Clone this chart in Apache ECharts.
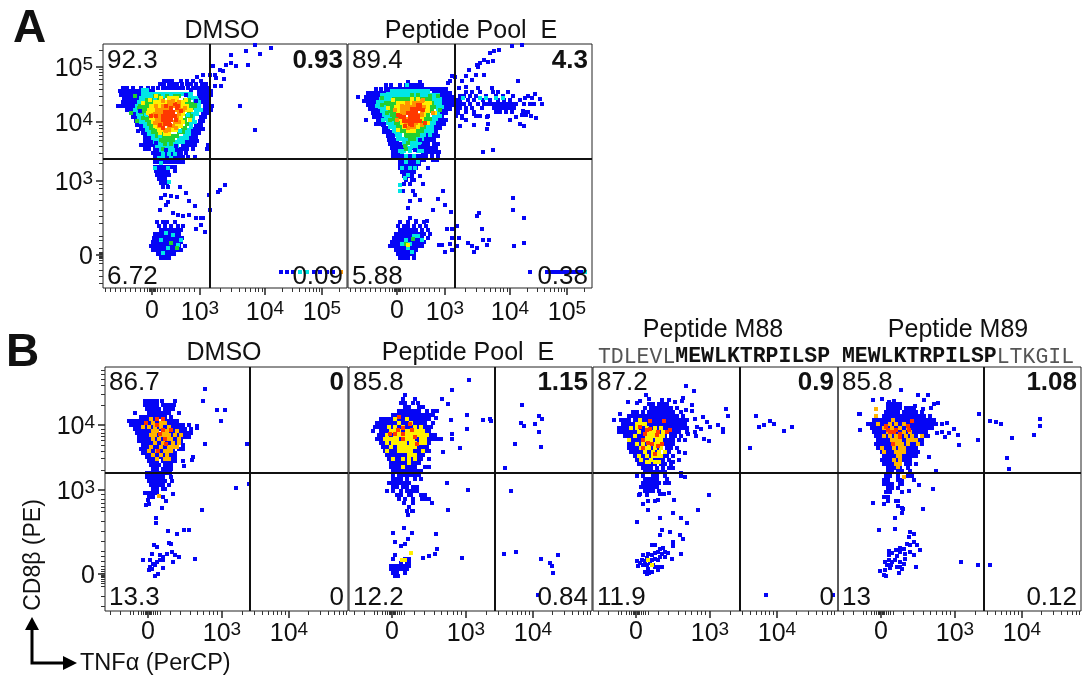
<!DOCTYPE html>
<html><head><meta charset="utf-8">
<style>html,body{margin:0;padding:0;background:#fff}#c{width:1082px;height:678px}</style>
<script src="https://cdn.jsdelivr.net/npm/echarts@6/dist/echarts.min.js"></script>
</head><body><div id="c"></div>
<script>
// Event values are biexponential channel positions. Rows are [channel y, channel x, channel x, ...]; loose events are [x, y].
const a1Blue=[[207,61,65,69,78,84,90,98],[204,57,61,66,70,74,79,84,88,93,99,103],[200,20,24,30,38,45,50,55,60,64,68,72,76,80,85,90,94,98,102,106],[197,17,21,25,29,33,37,41,46,50,96,100,104,108],[193,18,22,26,30,34,38,42,96,100,104,108],[189,21,25,29,33,37,97,101,105],[186,20,24,28,32,36,99,103,106],[182,15,19,23,27,31,102,106,109],[178,24,28,32,100,104,108],[175,28,32,100,104],[171,30,34,98,102],[167,33,37,97,100],[163,34,38,94,98],[159,38,42,92,96,100],[155,40,44,88,92,96],[151,42,46,85,89,93],[147,42,46,50,82,86,90,94],[143,38,42,46,50,80,84,88,92,105],[139,42,46,52,56,72,76,80,84,90,104],[135,50,54,58,62,66,70,74,78,83],[131,52,56,60,64,68,72,76,80,85,92],[126,52,56,60,64,68,72,76,80],[121,52,56,60,64,68,72],[117,53,57,61,65,72],[113,54,58,62,66],[109,56,60,62],[105,58,62,64],[101,60,65]];
const a1BlueLoose=[[77,101],[62,93],[58,90],[68,92],[74,91],[83,95],[65,86],[63,83],[86,87],[92,82],[57,78],[70,75],[75,73],[80,72],[86,73],[93,70],[98,70],[100,70],[93,59],[98,63],[102,56],[107,78],[106,93],[115,96],[117,98],[122,103],[137,182],[152,158],[110,222],[117,218],[128,233],[128,225],[123,223],[133,222],[143,237],[145,223],[152,243],[157,234],[168,240],[120,217],[121,209],[113,210],[112,213],[107,213],[100,213],[94,211],[118,202],[112,202],[178,16],[184,16],[190,16],[211,16],[217,16],[224,16],[230,16]];
const a1BlueLow=[[66,54,60,64,72],[62,56,62,68,75,80],[58,58,62,66,70,74,78],[54,52,56,60,64,68,72,76],[50,51,55,59,63,67,71,75,79],[46,50,54,58,62,66,70,74,78],[42,48,52,56,60,64,68,72,76,82],[38,50,54,58,62,66,70,74,78],[34,55,59,63,67,71],[30,58,62,66]];
const a1Cyan=[[198,40,44],[194,40,44,48,52,56,60,64,68,72,76,80,84,88],[190,38,42,46,50,54,60,86,90,94],[186,36,40,92,96],[182,34,38,96],[178,32,36,94,98],[174,35,39,90,94],[170,36,40,90],[166,38,42,88,92],[162,42,46,88],[158,44,48,84,88],[154,46,50,82,86],[150,50,54,58,76,80,84],[146,52,56,60,64,68,72,76,80],[142,54,58,62,66,70,74],[138,58,62,66,70],[134,60,66,72],[130,56,60,68],[125,58],[120,52,65],[106,66],[53,70],[48,58,78],[55,63],[43,75],[40,65],[35,60],[16,197,204]];
const a1Green=[[192,52,56,64,72,76],[188,44,48,56,60,82,86],[184,40,44,48,84,88,92],[180,36,40,44,88,92],[176,38,42,46,86],[172,42,46,84,88],[168,44,48,82],[164,46,50,84],[160,48,52,80],[156,50,54,58,76,80],[152,54,58,62,66,70,74],[148,58,62,66,70],[144,62,68],[139,60],[45,68],[40,74]];
const a1Yellow=[[190,58,66,70,74],[186,52,56,60,64,72,78,80],[182,48,52,56,80,84],[178,46,50,84],[174,46,50,80],[170,48,52,78],[166,50,78,80],[162,52,74,78],[158,54,58,70,74],[154,62,66]];
const a1Orange=[[186,66,70,76],[182,60,64,68,72,76],[178,54,58,62,66,74,78,80],[174,52,56,60,76],[170,54,58,74],[166,54,58,72,76],[162,56,60,66,70],[158,62,66],[16,238]];
const a1Red=[[184,72],[180,68,74],[176,62,66,70],[172,60,64,68,72],[168,60,64,68],[164,62,66]];
const a1MixGreen=[[28,175],[34,167],[40,170],[37,182],[32,192],[60,147],[70,148],[52,157],[82,160]];
const a1MixYellow=[[40,185],[45,175],[47,188],[53,192],[83,188],[88,178],[87,168],[77,162],[57,155]];
const a1MixOrange=[[50,173],[53,182],[70,187],[82,180],[52,165],[73,160],[63,157],[60,187]];
const a1MixRed=[[63,182],[75,182],[78,177],[53,172],[57,163],[67,163],[60,160],[73,168],[70,173],[48,172]];
const a1MixCyan=[[43,173],[85,173],[57,152],[77,157],[93,178]];
const a1MixBlue=[[38,160],[35,157],[93,162],[90,157],[53,145],[73,142],[63,138],[37,177],[97,192],[100,197],[88,198],[83,193],[93,187]];

const a2Blue=[[206,60,72],[203,38,43,52,58,62,66,70,74],[199,28,33,38,42,46,50,54,58,62,66,70,74,78,82,86,90,94,98],[195,20,24,28,32,36,40,44,48,86,90,94,98,102],[191,10,18,22,26,30,34,38,92,96,100,104],[187,16,20,24,28,32,36,94,98,102,106],[183,20,24,28,96,100,104],[179,22,26,30,94,98,102],[175,25,29,33,94,98],[171,26,30,34,90,94],[168,18,30,34,86,90,94,98],[164,28,32,36,84,88,92,96],[160,36,40,82,86,90],[156,36,40,44,80,84,88],[152,40,44,78,82,86,90],[148,41,45,49,74,78,82,86],[144,42,46,50,54,72,76,80,86,90],[140,44,48,52,56,60,64,68,72,76,80,84,88],[136,45,49,53,75,79,83,87,91],[132,45,49,53,57,62,70,74,78,84,90],[128,52,56,60,64,68,72,76,85,89],[124,52,56,60,64,68,71],[120,52,56,60,64,68,80],[116,54,58,62,66],[112,56,60,64,72],[108,58,64,66],[104,56,62,75]];
const a2BlueLoose=[[55,97],[65,97],[67,93],[62,87],[72,88],[60,80],[95,97],[90,89],[97,83],[85,78],[103,76],[62,70],[68,67],[79,67],[99,59],[104,59],[109,62],[104,50],[111,50],[91,43],[94,43],[102,44],[109,42],[104,38],[97,36],[120,45],[124,42],[129,40],[126,36],[135,48],[141,48],[139,43],[134,59],[129,72],[131,75],[165,90],[165,78],[176,70],[166,42],[176,45],[182,16],[199,16],[203,16],[207,16],[211,16],[215,16],[219,16],[223,16],[227,16],[231,16],[234,16],[102,207],[100,205],[107,211],[104,212],[114,207],[118,212],[124,208],[128,213],[121,218],[129,223],[132,225],[136,228],[130,221],[140,226],[145,227],[136,213],[142,235],[146,237],[151,238],[164,242],[174,243],[111,200],[118,201],[130,200],[144,200],[170,207],[187,194],[192,189],[194,184],[177,190],[180,192],[184,190],[172,188],[175,177],[178,173],[183,172],[188,170],[174,173],[168,171],[162,168],[139,171],[132,172],[126,174],[130,172],[118,168],[114,170],[110,175],[112,162],[126,163],[140,164],[139,159],[172,164],[176,162],[135,136],[145,138]];
const a2BlueArm=[[196,118,124,132,145,150,160],[192,112,116,122,128,138,148,155,165],[188,108,112,120,126,135,142,150,156,162],[184,108,112,116,122,130,136,140,144,148,152,156,160,164,168,176,182,186],[180,108,112,118,124,134,146,150,154,158,162,166],[176,110,118,126,148,152,158,164,176,180],[172,108,114,128,140]];
const a2BlueLow=[[66,52,60,68,76],[62,50,56,60,66,72,78],[58,52,56,60,64,68,74,80],[54,48,52,56,60,64,68,72,76,82],[50,46,50,54,58,62,66,70,74,80],[46,44,48,52,56,60,64,68,72,76],[42,42,46,50,54,58,62,66,70,74],[38,48,52,56,60,64,68],[34,50,54,58,62,66],[30,52,56,60,66]];
const a2Cyan=[[203,59],[197,40,44,48,52,56,60,64,68,72,76,80],[193,34,38,42,46,50,54,58,62,66,70,74,78,82,86,90],[189,30,34,38,42,84,88,92],[185,30,34,88,92],[181,32,36,90,94],[177,34,38,90],[173,36,40,86,90],[169,38,42,84,88],[165,40,44,82,86],[161,42,46,80,84],[157,46,50,76,80],[153,48,52,72,76,82],[149,50,54,58,66,70,74],[145,56,60,64,68,72],[141,58,64,68],[137,52,56,62,70,74],[132,58,66],[126,58,70],[120,54,62],[113,60],[97,52],[52,66,70],[48,58,74],[44,54,62],[40,60],[36,64],[16,237],[190,115,132,138,148,155]];
const a2Green=[[193,64,70],[189,46,50,54,58,62,66,70,74,78,82],[185,38,42,46,80,84],[181,40,44,82,86],[177,42,46,84],[173,44,48,80],[169,46,50,78,82],[165,48,52,76,80],[161,50,54,72,76],[157,54,58,70,74],[153,58,62,66,70],[149,62,66],[145,60],[139,58],[49,65],[44,58]];
const a2Yellow=[[189,64,70],[185,50,54,58,62,66,70,74,78],[181,48,52,74,78,80],[177,50,78,80],[173,52,76],[169,52,74],[165,54,72],[161,56,58,68,70],[157,60,64,66],[43,60]];
const a2Orange=[[187,74],[185,60,66,70],[181,54,58,62,66,72,76],[177,54,58,62,74],[173,54,56,72,74],[169,56,58,70],[165,58,60,68],[161,62,66]];
const a2Red=[[183,70],[179,64,68,72],[175,60,64,68],[171,52,56,62,66,70],[167,56,60,64,68,72],[163,62]];
const a2MixGreen=[[34,190],[34,183],[39,175],[42,168],[82,192],[90,192],[92,178],[59,152],[72,157],[57,142]];
const a2MixYellow=[[40,180],[45,188],[82,185],[87,175],[50,158],[64,157],[80,165]];
const a2MixOrange=[[47,178],[54,182],[75,188],[85,175],[49,168],[60,160],[74,163],[59,185]];
const a2MixRed=[[52,172],[57,167],[64,172],[70,172],[77,165],[72,183],[75,178],[57,162],[50,173],[67,175],[64,163]];
const a2MixCyan=[[29,182],[35,168],[92,172],[84,157],[62,140],[54,136],[67,120],[57,110],[52,103]];
const a2MixBlue=[[35,163],[92,160],[67,138],[75,142],[29,190],[40,198],[94,193],[72,148],[45,152]];

const b1Blue=[[210,40,44,48,52,57,70],[206,40,44,48,52,58,62,66,69],[202,42,46,50,54,60,64,68],[198,30,44,48,52,56,60,64,74],[194,36,40,44,48,52,56,60,66],[190,24,28,32,36,40,44,48,52,60,64,68,72],[186,26,30,34,38,42,46,50,54,58,62,66,70,74,78,84],[182,30,34,38,42,46,50,54,60,64,68,72,76,80,86],[178,32,36,40,44,48,52,58,62,66,70,74,78,82,86],[174,34,38,42,46,50,54,58,60,64,68,72,76,80,84],[170,34,38,42,46,50,52,56,60,64,68,72,76],[166,38,42,46,50,54,58,62,66,70,72,78],[162,36,40,44,48,52,56,60,64,68,74,78],[158,38,42,46,50,54,58,62,66,70],[154,42,46,50,54,58,62,66,70,88],[150,44,48,52,58,62,66,70,78],[146,46,50,54,60,64,66],[142,48,52,58,62,66],[138,42,46,50,54,58,62,65],[134,42,46,50,54,58,66],[130,44,48,52,56,60],[126,46,50,54,58,64],[122,48,52,58,60],[118,40,44,48,52],[114,44,48,58]];
const b1BlueLoose=[[67,130],[68,117],[61,110],[57,103],[43,111],[41,106],[44,107],[51,93],[51,88],[97,101],[63,80],[72,77],[79,81],[84,81],[49,66],[64,68],[66,67],[52,64],[47,57],[38,51],[45,51],[55,56],[58,54],[67,59],[62,57],[70,56],[74,54],[90,52],[68,49],[58,51],[55,51],[52,49],[48,47],[45,44],[50,46],[58,43],[44,41],[47,42],[53,37],[50,35],[100,222],[98,210],[112,201],[120,201],[116,190],[100,167],[142,167],[92,185],[92,183],[87,151],[79,145],[131,123],[144,127]];
const b1Orange=[[192,46,52],[188,48,56,60],[184,38,44,50,56,64],[180,48,52,58,62,72],[176,46,50,56,60,64,70,76],[172,48,54,62,66,74],[168,50,58,68,74],[164,46,56,64,68,72],[160,44,52,60,64,66],[156,48,56,62],[152,52,60,64],[115,54]];
const b1Red=[[188,41],[192,52,58],[186,52],[181,58,66],[177,55],[172,60],[167,61],[160,53]];

const b2Blue=[[216,56],[212,54,66],[208,52,56,64,69],[204,56,60,70,74],[200,50,54,58,62,66,70,78,84,88],[196,44,48,52,56,60,64,68,72,76,80,84],[192,32,36,40,44,48,52,56,60,64,68,72,76,80],[188,28,32,36,40,44,48,52,56,60,64,68,72,76,84],[184,26,30,34,38,42,46,50,54,58,62,66,70,74,78,82],[180,24,32,36,40,44,48,52,56,60,64,68,72,76,80],[176,30,34,38,42,46,50,54,58,62,66,70,74,78,82,86],[172,28,32,36,40,44,48,52,56,60,64,68,72,76,80,84,88,92],[168,32,36,40,44,48,52,56,60,64,68,72,76,80],[164,34,38,42,46,50,54,58,62,66,70,74,78],[160,36,40,44,48,52,56,60,64,68,72,76,80],[156,38,42,46,50,54,58,62,66,70,74],[152,40,44,48,52,56,60,64,68,72,80],[148,42,46,50,54,58,62,66,70],[144,42,46,50,54,58,62,66,76,80],[140,44,48,52,56,60,64,68,72],[136,44,50,54,58,62,66,70],[132,44,48,52,58,66,72],[128,40,44,48,52,56,60],[124,44,48,54,58,64,68],[120,38,44,52,58,62,66,68],[116,48,52,60,62,72,76],[112,50,56,64,80],[108,55,64],[104,60],[100,58,64]];
const b2BlueLoose=[[120,231],[103,221],[93,212],[99,207],[118,196],[102,191],[134,191],[141,192],[142,190],[118,182],[103,177],[103,172],[111,163],[94,159],[87,193],[173,206],[190,195],[193,192],[186,187],[172,188],[175,185],[190,179],[166,167],[192,164],[156,143],[162,120],[98,128],[119,121],[99,101],[59,96],[63,100],[83,108],[77,112],[73,112],[55,83],[44,78],[63,78],[87,77],[59,72],[46,69],[52,65],[56,67],[88,62],[86,57],[80,55],[74,53],[113,53],[155,57],[167,59],[192,52],[201,48],[203,45],[209,56],[204,38],[189,16]];
const b2BlueLow=[[56,46],[52,44,56,60],[48,52,58,60],[45,42,46,50,54,58,60],[42,42,46,50,54,58],[38,44,48,56],[35,46,49]];
const b2Yellow=[[192,46,58],[188,50,62],[184,40,46,54,66,72],[180,42,46,50,58,62,66,70,74],[176,38,46,50,54,58,62,66,70,74,78],[172,36,40,44,48,56,60,64,72,76],[168,38,44,48,52,56,62,66,72,76],[164,42,50,54,58,62,66],[160,38,50,54,58,62,74],[156,60,64,66],[152,44,54,60,66],[148,60],[144,54],[58,62],[51,53,56]];
const b2Red=[[194,50],[187,61],[183,54],[181,49,63],[177,41,46,54],[174,66],[172,54],[167,68]];

const b3Blue=[[207,56,60,66,70,74],[203,52,58,62,66,70,74,78,84],[199,40,44,50,56,60,64,68,72,76,80,88],[195,36,40,44,48,52,56,60,64,68,72,76,80,84,90],[191,28,32,36,42,46,50,54,58,62,66,70,74,78,82,86,90,94],[187,30,34,38,42,46,50,54,58,62,66,70,72,76,80,84,88,92],[183,26,30,34,38,42,46,50,54,58,62,66,70,74,78,82,86,90,94],[179,26,30,34,38,42,46,50,54,58,62,66,70,74,78,82,86,94],[175,32,36,40,44,48,52,56,60,64,68,72,78,82,88],[171,36,40,44,48,52,56,60,64,68,72,76,80,86,92],[167,36,40,44,48,52,56,60,64,68,72,76,80],[163,36,40,44,48,52,56,60,64,68,74,78,84],[159,38,42,46,50,54,58,62,66,72,76],[155,42,46,50,54,58,62,66,70,74,80],[151,44,48,52,56,62,66,70,76,86],[147,46,50,54,58,62,68,72,78],[143,50,54,58,64,70,76,80],[139,52,56,60,64,68,72],[135,44,50,60,64,72,88],[132,52,56,60,64,74],[128,50,54,58,62,66,72,76],[124,48,52,56,60,64],[120,52,56,60,66],[116,46,54]];
const b3BlueLoose=[[93,225],[101,220],[53,216],[90,213],[89,210],[82,209],[76,211],[69,211],[56,212],[47,210],[44,208],[35,209],[99,206],[93,201],[99,200],[133,202],[135,195],[21,191],[27,197],[76,118],[71,117],[67,117],[47,117],[116,116],[81,111],[65,111],[62,110],[55,110],[50,107],[55,101],[105,101],[80,98],[67,93],[88,93],[94,88],[44,89],[69,81],[77,79],[67,76],[87,76],[90,72],[80,69],[80,65],[88,57],[163,195],[166,184],[171,186],[177,190],[181,187],[191,180],[199,184],[157,163],[173,16],[240,16],[102,192],[110,194],[114,189],[104,184],[108,182],[117,184],[125,186],[130,182],[130,179],[102,179],[103,175],[111,172],[116,170],[95,177],[86,159],[92,158],[80,149],[88,138],[92,134]];
const b3BlueLow=[[59,66],[62,66],[67,62],[70,63],[55,57],[59,56],[62,58],[65,59],[69,57],[72,59],[75,58],[67,54],[72,54],[79,52],[50,56],[54,53],[49,51],[44,50],[52,50],[59,51],[62,52],[65,51],[45,45],[50,46],[54,46],[55,42],[62,44],[65,44],[69,44],[52,39],[59,39],[65,41],[54,37],[56,38],[47,48],[57,48],[60,46]];
const b3Yellow=[[191,47],[187,44,48,52],[183,38,44,54,62,68],[179,46,56,60,64,70],[175,42,54,58,62,66,70],[171,36,50,54,58,64,68],[167,44,50,56,60,64,68],[163,48,52,56,62,68],[159,52,60,66,72],[155,46,54,60,64,68],[151,48,58],[149,54,56,62,66],[51,55],[46,59]];
const b3Red=[[190,57,71],[184,47],[181,54,77],[182,57],[177,52],[179,65,74],[176,64],[171,50],[168,55],[167,59,69],[165,65],[163,50],[157,62]];

const b4Blue=[[207,50,54,58,62],[203,50,54,58,62,68,72,76],[199,48,52,56,60,66,70,74,78,84],[195,46,50,54,58,62,66,70,74,78,82,86,92],[191,36,40,44,48,52,56,60,64,68,72,76,80,84,88,92,96],[187,30,34,38,42,46,50,54,58,62,66,70,74,78,82,86,90,94,98],[183,34,38,42,46,50,54,58,62,66,70,74,78,82,86,90,94],[179,36,40,44,48,52,56,60,64,68,72,76,80,84,88],[175,38,42,46,50,54,58,62,66,70,74,78,84,88,90],[171,40,44,48,52,56,60,64,68,72,76,80,84],[167,38,42,46,50,54,58,62,66,70,74,78,84],[163,40,44,48,52,56,60,64,68,70,74,78],[159,44,48,52,56,60,64,68,72,76,80],[155,46,50,54,58,62,66,70,74,78],[151,44,48,52,56,60,64,68,72],[147,46,50,54,58,62,68,72,78],[143,50,54,58,62,70],[140,50,54,60,64,72],[135,48,52,60,70,74],[131,46,50,60,64,76],[127,46,50,54,62,64],[123,50,54,60],[119,48,52,64],[114,46,50],[110,50,58,60]];
const b4BlueLoose=[[63,221],[80,216],[90,216],[35,211],[44,212],[51,209],[56,210],[86,211],[77,205],[100,208],[96,207],[93,203],[85,202],[141,197],[22,197],[21,197],[22,181],[109,188],[104,187],[116,182],[99,178],[104,179],[111,178],[120,176],[107,174],[140,171],[121,166],[91,154],[98,140],[152,190],[158,189],[163,187],[202,192],[202,185],[196,176],[174,173],[169,153],[171,142],[81,126],[95,122],[71,120],[35,108],[46,107],[60,105],[64,103],[64,98],[65,102],[85,102],[57,93],[41,81],[57,82],[123,49],[140,46],[152,46]];
const b4BlueLow=[[72,79],[76,77],[71,74],[76,69],[69,67],[72,66],[79,66],[82,61],[62,63],[66,62],[58,61],[51,60],[54,58],[62,59],[67,57],[72,59],[76,56],[51,56],[59,55],[67,52],[47,49],[51,51],[54,49],[57,51],[62,49],[66,47],[49,46],[53,46],[59,44],[64,42],[78,44],[42,40],[47,41],[52,43],[46,36],[48,35],[61,38],[62,44]];
const b4Orange=[[202,38],[195,38],[191,55],[187,40,52,58,66],[183,46,54,62,70],[179,50,56,66,72],[175,46,52,58,68,74,84],[171,54,58,62,70,74,78],[167,56,60,64,70,80],[163,44,56,62,66],[159,46,58,62,66],[155,60,62],[151,56,62],[147,58,62],[144,60],[134,66]];
const b4Red=[[190,74],[185,48,70],[184,48],[181,50,58,71],[179,52,56],[177,62],[174,62],[167,55]];

const xTicksA=[49,97,162,219];
const yTicksA=[221,166,107,33];
const xTicksB=[43,117,184];
const yTicksB=[186,121,37];
const xLabelsA=['0','10{s|3}','10{s|4}','10{s|5}'];
const yLabelsA=['10{s|5}','10{s|4}','10{s|3}','0'];
const xLabelsB=['0','10{s|3}','10{s|4}'];
const yLabelsB=['10{s|4}','10{s|3}','0'];
const xMinorA=[2,7,12,17,22,27,32,37,41,44,46,47,48,50,51,52,54,57,61,66,71,76,81,86,91,117,128,136,142,147,152,155,159,179,189,196,202,206,210,213,216,236];
const yMinorA=[238,183,192,199,204,209,213,216,219,125,135,142,148,152,156,160,163,104,100,94,88,78,72,65,52,48,40,36,35,34,32,31,30,28,25,18,12,5];
const xMinorB=[5,15,25,28,33,36,38,40,41,42,44,45,46,48,50,52,55,65,75,85,92,98,104,108,112,137,149,157,163,168,172,176,180,203,215,223,229,234,238,241];
const yMinorB=[206,217,226,232,237,241,141,153,160,166,171,175,178,182,117,112,108,104,100,90,80,70,60,55,50,45,42,40,38,36,35,34,32,30,28,25,15,5];

const titlesA=['DMSO','Peptide Pool  E'];
const titlesB=['DMSO','Peptide Pool  E','Peptide M88','Peptide M89'];
const q={a1:['92.3','0.93','6.72','0.09'],a2:['89.4','4.3','5.88','0.38'],b1:['86.7','0','13.3','0'],b2:['85.8','1.15','12.2','0.84'],b3:['87.2','0.9','11.9','0'],b4:['85.8','1.08','13','0.12']};

const COL={blue:'#0505F5',cyan:'#00E6E6',green:'#22D030',yellow:'#FFF000',amber:'#FFB400',orange:'#FF9400',red:'#FF3800'};
const rows=r=>r.flatMap(([y,...xs])=>xs.map(x=>[x,y]));
const FONT='"Liberation Sans",Arial,sans-serif';

const panels=[
 {k:'a1',l:103,t:44,w:244,h:244,xT:xTicksA,xL:xLabelsA,yT:yTicksA,yL:yLabelsA,xM:xMinorA,yM:yMinorA,showY:true,g:[107,129],
  layers:[['blue',[...rows(a1Blue),...a1BlueLoose,...rows(a1BlueLow)]],['cyan',rows(a1Cyan)],['green',rows(a1Green)],['yellow',rows(a1Yellow)],['orange',rows(a1Orange)],['red',rows(a1Red)],['blue',a1MixBlue],['cyan',a1MixCyan],['green',a1MixGreen],['yellow',a1MixYellow],['orange',a1MixOrange],['red',a1MixRed]]},
 {k:'a2',l:348,t:44,w:244,h:244,xT:xTicksA,xL:xLabelsA,yT:yTicksA,yL:yLabelsA,xM:xMinorA,yM:yMinorA,showY:false,g:[107,129],
  layers:[['blue',[...rows(a2Blue),...a2BlueLoose,...rows(a2BlueArm),...rows(a2BlueLow)]],['cyan',rows(a2Cyan)],['green',rows(a2Green)],['yellow',rows(a2Yellow)],['orange',rows(a2Orange)],['red',rows(a2Red)],['blue',a2MixBlue],['cyan',a2MixCyan],['green',a2MixGreen],['yellow',a2MixYellow],['orange',a2MixOrange],['red',a2MixRed]]},
 {k:'b1',l:105,t:367,w:243,h:244,xT:xTicksB,xL:xLabelsB,yT:yTicksB,yL:yLabelsB,xM:xMinorB,yM:yMinorB,showY:true,g:[145,138],
  layers:[['blue',[...rows(b1Blue),...b1BlueLoose]],['amber',rows(b1Orange)],['red',rows(b1Red)]]},
 {k:'b2',l:349,t:367,w:243,h:244,xT:xTicksB,xL:xLabelsB,yT:yTicksB,yL:yLabelsB,xM:xMinorB,yM:yMinorB,showY:false,g:[146,138],
  layers:[['blue',[...rows(b2Blue),...b2BlueLoose,...rows(b2BlueLow)]],['yellow',rows(b2Yellow)],['red',rows(b2Red)]]},
 {k:'b3',l:593,t:367,w:245,h:244,xT:xTicksB,xL:xLabelsB,yT:yTicksB,yL:yLabelsB,xM:xMinorB,yM:yMinorB,showY:false,g:[147,138],
  layers:[['blue',[...rows(b3Blue),...b3BlueLoose,...b3BlueLow]],['yellow',rows(b3Yellow)],['red',rows(b3Red)]]},
 {k:'b4',l:838,t:367,w:243,h:244,xT:xTicksB,xL:xLabelsB,yT:yTicksB,yL:yLabelsB,xM:xMinorB,yM:yMinorB,showY:false,g:[146,138],
  layers:[['blue',[...rows(b4Blue),...b4BlueLoose,...b4BlueLow]],['amber',rows(b4Orange)],['red',rows(b4Red)]]}
];

const rich={s:{fontSize:19,fontFamily:FONT,color:'#111',padding:[0,0,9,0]}};
const grid=[],xAxis=[],yAxis=[],series=[],graphic=[];
const txt=(text,x,y,o={})=>graphic.push({type:'text',x,y,rotation:o.rot||0,z:20,silent:true,style:{text,fill:o.fill||'#111',font:`${o.bold?'bold ':''}${o.size||26}px ${FONT}`,align:o.align||'left',verticalAlign:'middle'}});

panels.forEach((p,i)=>{
 grid.push({left:p.l,top:p.t,width:p.w,height:p.h,show:true,borderColor:'#222',borderWidth:1,backgroundColor:'transparent',containLabel:false});
 const xi=xAxis.length, yi=yAxis.length, isA=p.k[0]==='a';
 const lab=(ticks,labels)=>v=>{const n=ticks.indexOf(v);return n<0?'':labels[n]};
 xAxis.push({type:'value',gridIndex:i,min:0,max:p.w,position:'bottom',splitLine:{show:false},axisLine:{show:false},
   axisTick:{show:true,length:7,customValues:p.xT,lineStyle:{color:'#222',width:1.5}},
   axisLabel:{show:true,customValues:p.xT,formatter:lab(p.xT,p.xL),margin:isA?11:9,fontSize:25,fontFamily:FONT,color:'#111',rich,hideOverlap:false,showMinLabel:true,showMaxLabel:true}});
 xAxis.push({type:'value',gridIndex:i,min:0,max:p.w,position:'bottom',splitLine:{show:false},axisLine:{show:false},
   axisTick:{show:true,length:4,customValues:p.xM,lineStyle:{color:'#333',width:1}},axisLabel:{show:false}});
 yAxis.push({type:'value',gridIndex:i,min:0,max:p.h,position:'left',splitLine:{show:false},axisLine:{show:false},
   axisTick:{show:p.showY,length:7,customValues:p.yT,lineStyle:{color:'#222',width:1.5}},
   axisLabel:{show:p.showY,customValues:p.yT,formatter:lab(p.yT,p.yL),margin:10,padding:[5,0,0,0],fontSize:25,fontFamily:FONT,color:'#111',rich}});
 yAxis.push({type:'value',gridIndex:i,min:0,max:p.h,position:'left',splitLine:{show:false},axisLine:{show:false},
   axisTick:{show:p.showY,length:4,customValues:p.yM,lineStyle:{color:'#333',width:1}},axisLabel:{show:false}});
 p.layers.forEach(([c,data],z)=>series.push({type:'scatter',name:p.k+'-'+c+z,xAxisIndex:xi,yAxisIndex:yi,data,symbol:'rect',symbolSize:4,z:2,zlevel:0,clip:true,silent:true,animation:false,itemStyle:{color:COL[c],opacity:1}}));
 series.push({type:'scatter',name:p.k+'-gate',xAxisIndex:xi,yAxisIndex:yi,data:[],z:3,silent:true,animation:false,
   markLine:{silent:true,symbol:'none',animation:false,label:{show:false},z:10,lineStyle:{color:'#111',width:2,type:'solid'},
     data:[{xAxis:p.g[0]},{yAxis:p.g[1]}]}});
 const v=q[p.k],L=p.l+4,R=p.l+p.w-4,T=p.t+(isA?17:16),B=p.t+p.h-(isA?11:13);
 txt(v[0],L,T); txt(v[1],R,T,{bold:true,align:'right'}); txt(v[2],L,B); txt(v[3],R,B,{align:'right'});
});

txt('A',13,29,{bold:true,size:46});
txt('B',6,353,{bold:true,size:46});
txt(titlesA[0],222,31,{size:25,align:'center'});
txt(titlesA[1],471,31,{size:25,align:'center'});
txt(titlesB[0],224,353,{size:25,align:'center'});
txt(titlesB[1],468,353,{size:25,align:'center'});
txt(titlesB[2],713,330,{size:25,align:'center'});
txt(titlesB[3],958,330,{size:25,align:'center'});
txt('CD8β (PE)',34,555,{size:23,rot:Math.PI/2,align:'center'});
txt('TNFα (PerCP)',80,664,{size:23.5});

const seq=(a,b,c,x)=>graphic.push({type:'text',x,y:357,z:20,silent:true,style:{text:(a?`{g|${a}}`:'')+`{b|${b}}`+(c?`{g|${c}}`:''),align:'center',verticalAlign:'middle',
  rich:{g:{font:'21.5px "Liberation Mono",monospace',fill:'#555'},b:{font:'bold 21.5px "Liberation Mono",monospace',fill:'#111'}}}});
const seqM88=['TDLEVL','MEWLKTRPILSP',''],seqM89=['','MEWLKTRPILSP','LTKGIL'];
seq(...seqM88,714); seq(...seqM89,958);

graphic.push({type:'polyline',z:20,silent:true,shape:{points:[[32,626],[32,663],[66,663]]},style:{stroke:'#000',lineWidth:3,fill:null}});
graphic.push({type:'polygon',z:20,silent:true,shape:{points:[[32,617],[25,630],[39,630]]},style:{fill:'#000'}});
graphic.push({type:'polygon',z:20,silent:true,shape:{points:[[77,663],[63,656],[63,670]]},style:{fill:'#000'}});

const chart=echarts.init(document.getElementById('c'),null,{renderer:'canvas'});
chart.setOption({animation:false,backgroundColor:'#fff',grid,xAxis,yAxis,series,graphic});
</script></body></html>
